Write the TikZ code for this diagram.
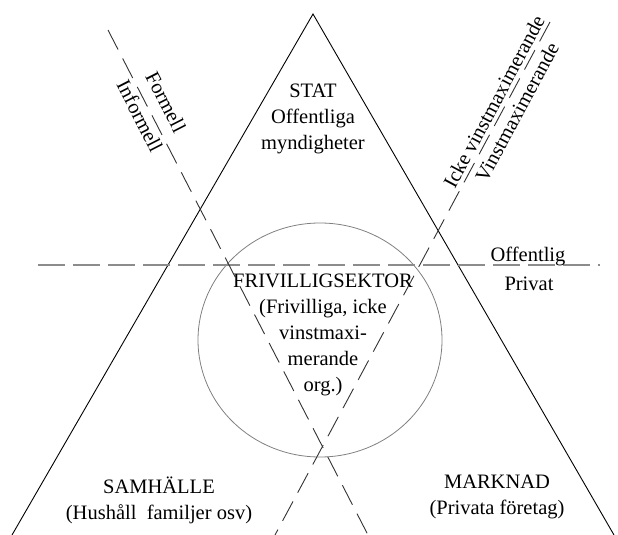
\documentclass[tikz,border=0pt]{standalone}
\usepackage{fontspec}
\newfontfamily\diagfont{Liberation Serif}
\begin{document}
\begin{tikzpicture}[x=1pt,y=-1pt,
  lbl/.style={inner sep=0pt, align=center, font=\diagfont\fontsize{20.5}{26}\selectfont},
  side/.style={draw=black, line width=0.9pt},
  divider/.style={draw=black!80, line width=0.9pt, dash pattern=on 22pt off 10pt},
  hdivider/.style={draw=black!45, line width=1.8pt, dash pattern=on 27pt off 8pt},
  ring/.style={draw=black!50, line width=0.8pt}]
\useasboundingbox (0,0) rectangle (618,535);
\clip (0,0) rectangle (618,535);
% key points
\coordinate (apex) at (313,14);
\coordinate (bl) at (12,535);
\coordinate (br) at (614,535);
\coordinate (aTop) at (108,30);
\coordinate (aBot) at (368,535);
\coordinate (bTop) at (550,22);
\coordinate (bBot) at (275,535);
\coordinate (hL) at (38,265);
\coordinate (hR) at (600,265);
\coordinate (cc) at (320,340);
% triangle sides
\draw[side] (bl) -- (apex) -- (br);
% circle
\draw[ring] (cc) ellipse [x radius=122, y radius=117];
% dashed dividers
\draw[hdivider] (hL) -- (hR);
\draw[divider] (aTop) -- (aBot);
\draw[divider] (bTop) -- (bBot);
% texts
\node[lbl] (stat) at (313,119) {STAT\\Offentliga\\myndigheter};
\node[lbl] (friv) at (323,335) {FRIVILLIGSEKTOR\\(Frivilliga, icke\\vinstmaxi-\\merande\\org.)};
\node[lbl] (offentlig) at (528,256) {Offentlig};
\node[lbl] (privat) at (529,284) {Privat};
\node[lbl] (samhalle) at (159,500) {SAMHÄLLE\\(Hushåll\ \ familjer osv)};
\node[lbl] (marknad) at (497,497) {MARKNAD\\(Privata företag)};
\node[lbl, rotate=-62.9] (formell) at (166,102) {Formell};
\node[lbl, rotate=-62.9] (informell) at (140,116) {Informell};
\node[lbl, rotate=61.8] (icke) at (494,102) {Icke vinstmaximerande};
\node[lbl, rotate=61.8] (vinst) at (517,112) {Vinstmaximerande};
\end{tikzpicture}
\end{document}
